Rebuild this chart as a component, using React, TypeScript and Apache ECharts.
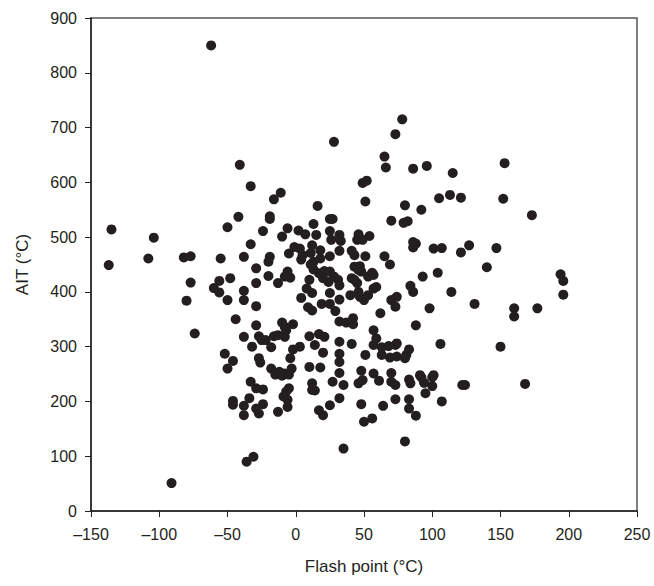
import React, { useEffect, useRef } from "react";
import * as echarts from "echarts";

const xTicks = [-150, -100, -50, 0, 50, 100, 150, 200, 250];
const yTicks = [0, 100, 200, 300, 400, 500, 600, 700, 800, 900];

// Flash point (°C)
const flashPoint: number[] = [
  -62, -135, -104, -50, -42, -41, -108, -82, -77, -55, 78, 73, 28, 65, 66, 86, 96, -33, -11, -16,
  49, 52, 51, 16, 80, 92, -19, -19, 25, 27, 70, 79, 82, -24, -6, -10, 2, 7, 13, 15,
  25, 26, 32, 33, 46, 45, 49, 54, 86, 88, 86, -33, -38, -19, 115, 153, 105, 113, 121, 152,
  173, 101, 107, 121, 127, 147, 140, 194, 196, 196, 114, 131, 160, 160, 177, 150, 124, 122, 168, -137,
  -77, -56, -48, -60, -56, -80, -50, -44, -74, -52, -46, -50, -46, -46, -91, -20, -1, 3, -5, 5,
  4, 12, 11, 18, 13, 18, 25, 32, -29, -20, -29, -38, -38, -13, -8, -6, -4, 11, 13, 17,
  21, 10, 20, 24, 28, 31, 32, 25, 25, 8, 12, 4, 19, 25, 9, 12, 29, 32, -29, -29,
  -10, -8, -2, -38, -27, -25, -22, -16, -13, -8, -7, -32, -18, 10, 17, 21, 14, -2, 3, 20,
  -4, 32, 32, -27, -26, -18, -12, -8, -3, 10, 18, 32, -15, -10, -5, 32, -33, -29, -24, -38,
  -34, -38, -29, -27, -24, -13, -9, -6, -6, -5, -7, 12, 12, 14, 17, 20, 25, 27, 32, 35,
  35, -36, -31, 41, 43, 51, 65, 69, 43, 47, 48, 46, 56, 57, 53, 41, 45, 43, 46, 47,
  50, 53, 57, 59, 40, 93, 104, 84, 86, 70, 74, 73, 98, 62, 88, 32, 37, 42, 42, 57,
  59, 106, 41, 57, 63, 68, 73, 74, 83, 81, 80, 63, 69, 74, 51, 48, 57, 70, 91, 101,
  46, 49, 61, 70, 73, 83, 84, 92, 94, 100, 100, 48, 64, 73, 83, 83, 88, 95, 107, 50,
  56, 80,
];

// AIT (°C)
const ait: number[] = [
  850, 514, 499, 518, 537, 632, 461, 463, 465, 461, 715, 688, 674, 647, 627, 625, 630, 593, 581, 569,
  599, 603, 565, 557, 558, 550, 538, 533, 533, 533, 530, 526, 529, 511, 516, 501, 512, 505, 524, 504,
  511, 495, 504, 493, 505, 495, 495, 502, 491, 488, 481, 487, 464, 464, 617, 635, 571, 577, 572, 570,
  540, 479, 480, 472, 485, 480, 445, 432, 420, 395, 400, 378, 370, 355, 370, 300, 230, 230, 232, 449,
  417, 420, 425, 407, 399, 384, 385, 350, 324, 287, 274, 260, 201, 194, 51, 455, 482, 479, 470, 467,
  459, 485, 471, 476, 455, 461, 465, 475, 443, 429, 416, 402, 385, 416, 428, 437, 426, 450, 441, 434,
  438, 422, 425, 418, 428, 422, 412, 437, 398, 406, 398, 389, 378, 378, 372, 366, 365, 386, 374, 339,
  344, 336, 341, 318, 319, 312, 312, 319, 321, 318, 330, 300, 299, 319, 323, 318, 303, 295, 300, 289,
  279, 309, 287, 279, 271, 260, 254, 251, 260, 263, 262, 272, 249, 247, 249, 252, 236, 224, 222, 192,
  206, 175, 187, 178, 195, 181, 209, 203, 190, 224, 218, 233, 221, 220, 184, 175, 193, 236, 206, 230,
  114, 90, 99, 475, 467, 465, 465, 450, 446, 447, 437, 440, 435, 431, 428, 425, 416, 422, 400, 391,
  385, 394, 406, 409, 394, 428, 435, 411, 400, 385, 391, 373, 370, 361, 339, 346, 344, 352, 341, 330,
  315, 305, 305, 303, 299, 301, 303, 306, 295, 285, 279, 285, 280, 282, 285, 256, 251, 252, 248, 248,
  233, 239, 238, 236, 230, 240, 233, 244, 234, 244, 228, 195, 192, 204, 204, 187, 174, 215, 200, 163,
  169, 127,
];

const ink = "#231f20";
const font = "'Liberation Sans', Arial, Helvetica, sans-serif";

export default function App() {
  const ref = useRef<HTMLDivElement>(null);
  useEffect(() => {
    if (!ref.current) return;
    const chart = echarts.init(ref.current, null, { renderer: "svg" });
    const n = Math.min(flashPoint.length, ait.length);
    const data: [number, number][] = [];
    for (let i = 0; i < n; i++) data.push([flashPoint[i], ait[i]]);
    chart.setOption({
      animation: false,
      backgroundColor: "#ffffff",
      grid: {
        left: 91,
        right: 17,
        top: 18,
        bottom: 75,
        show: true,
        borderColor: "#555555",
        borderWidth: 1.5,
        backgroundColor: "transparent",
      },
      xAxis: {
        type: "value",
        min: xTicks[0],
        max: xTicks[xTicks.length - 1],
        interval: 50,
        name: "Flash point (°C)",
        nameLocation: "middle",
        nameGap: 47,
        nameTextStyle: { fontFamily: font, fontSize: 17, color: ink },
        axisLine: { show: true, onZero: false, lineStyle: { color: ink, width: 1.5 } },
        axisTick: { show: true, inside: false, length: 6, lineStyle: { color: ink, width: 1 } },
        axisLabel: {
          fontFamily: font,
          fontSize: 16,
          color: ink,
          margin: 15,
          formatter: (v: number) => (v < 0 ? "\u2013" + Math.abs(v) : String(v)),
        },
        splitLine: { show: false },
      },
      yAxis: {
        type: "value",
        min: yTicks[0],
        max: yTicks[yTicks.length - 1],
        interval: 100,
        name: "AIT (°C)",
        nameLocation: "middle",
        nameGap: 60,
        nameTextStyle: { fontFamily: font, fontSize: 17, color: ink },
        axisLine: { show: true, onZero: false, lineStyle: { color: ink, width: 1.5 } },
        axisTick: { show: true, inside: false, length: 6, lineStyle: { color: ink, width: 1 } },
        axisLabel: { fontFamily: font, fontSize: 16, color: ink, margin: 14 },
        splitLine: { show: false },
      },
      series: [
        {
          type: "scatter",
          data,
          symbol: "circle",
          symbolSize: 10,
          itemStyle: { color: ink, opacity: 1 },
        },
      ],
    });
    return () => chart.dispose();
  }, []);
  return <div ref={ref} style={{ width: 654, height: 586, position: "absolute", left: 0, top: 0 }} />;
}
